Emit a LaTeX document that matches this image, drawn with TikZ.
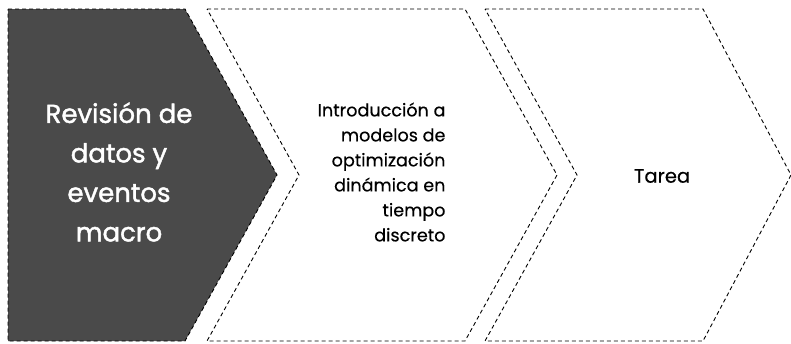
\documentclass[tikz,border=0pt]{standalone}
\usepackage{fontspec}
\setmainfont{Poppins}
\newfontfamily\popbig{Poppins}[FakeBold=1.6]
\newfontfamily\popmid{Poppins}[FakeBold=0.4]
\definecolor{darkfill}{HTML}{4A4A4A}
\tikzset{
  chev/.style={draw=black, line width=0.9pt, dash pattern=on 4pt off 3pt},
  bigtxt/.style={text=white, font=\popbig\fontsize{26}{39.5}\selectfont, align=center},
  smalltxt/.style={text=black, font=\popmid\fontsize{17.6}{25}\selectfont, align=right},
  midtxt/.style={text=black, font=\popmid\fontsize{19.5}{22}\selectfont}
}
\begin{document}
\begin{tikzpicture}[x=1pt,y=-1pt]
\useasboundingbox (0,0) rectangle (791,343);
% chevron 1
\path[chev, fill=darkfill] (8,9) -- (185,9) -- (277,175) -- (185,341) -- (8,341) -- cycle;
% chevron 2
\path[chev] (207,9) -- (465,9) -- (557,175) -- (465,341) -- (207,341) -- (299,175) -- cycle;
% chevron 3
\path[chev] (485,9) -- (703,9) -- (791,175) -- (703,341) -- (485,341) -- (577,175) -- cycle;
\node[bigtxt] (t1) at (119,172) {Revisión de\\datos y\\eventos\\macro};
\node[smalltxt, anchor=east] (t2) at (449,172) {Introducción a\\modelos de\\optimización\\dinámica en\\tiempo\\discreto};
\node[midtxt] (t3) at (662,176) {Tarea};
\end{tikzpicture}
\end{document}
